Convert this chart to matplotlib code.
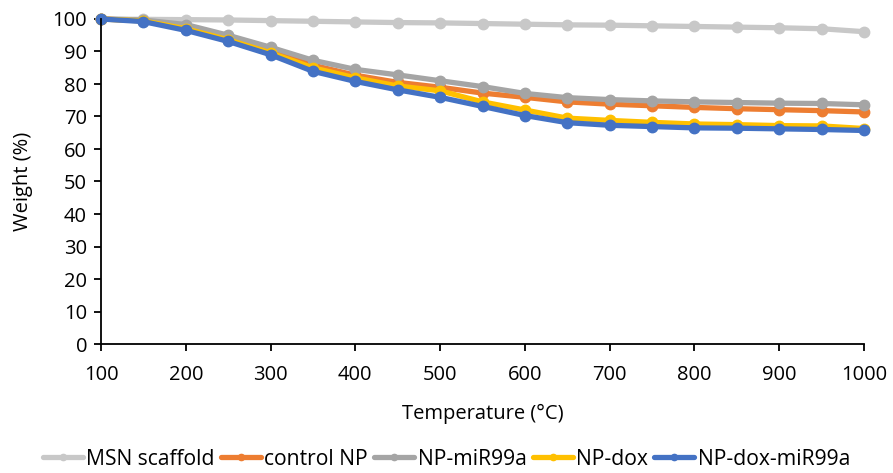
import matplotlib.pyplot as plt
import numpy as np

# Data
temperature = [100, 150, 200, 250, 300, 350, 400, 450, 500, 550, 600, 650, 700, 750, 800, 850, 900, 950, 1000]

msn_scaffold = [100, 99.9, 99.8, 99.7, 99.5, 99.3, 99.1, 98.9, 98.8, 98.6, 98.4, 98.2, 98.1, 97.9, 97.7, 97.5, 97.3, 97.0, 96.1]
control_np = [100, 99.5, 97.6, 94.2, 90.3, 85.8, 82.7, 80.5, 79.0, 77.2, 75.9, 74.5, 73.8, 73.3, 72.8, 72.4, 72.1, 71.8, 71.4]
np_mir99a = [100, 99.7, 98.3, 95.0, 91.3, 87.3, 84.5, 82.8, 81.0, 79.2, 77.1, 75.8, 75.2, 74.8, 74.5, 74.3, 74.1, 74.0, 73.6]
np_dox = [100, 99.4, 97.0, 93.6, 89.6, 85.0, 81.9, 79.4, 77.9, 74.5, 72.0, 69.5, 68.8, 68.2, 67.7, 67.5, 67.2, 67.1, 66.3]
np_dox_mir99a = [100, 99.2, 96.5, 93.1, 89.0, 83.9, 80.8, 78.2, 75.9, 73.1, 70.3, 68.1, 67.3, 66.9, 66.5, 66.4, 66.2, 66.0, 65.7]

series = [
    ('MSN scaffold', msn_scaffold, '#C8C8C8'),
    ('control NP', control_np, '#ED7D31'),
    ('NP-miR99a', np_mir99a, '#A5A5A5'),
    ('NP-dox', np_dox, '#FFC000'),
    ('NP-dox-miR99a', np_dox_mir99a, '#4472C4'),
]

plt.rcParams['font.family'] = ['Open Sans', 'DejaVu Sans']

fig = plt.figure(figsize=(8.93, 4.73), dpi=100)
ax = fig.add_axes([101 / 893, 1 - 344 / 473, 763 / 893, 325 / 473])

for name, vals, color in series:
    ax.plot(temperature, vals, color=color, lw=3.8, marker='o', ms=7.5,
            label=name, clip_on=False, solid_capstyle='round')

ax.set_xlim(100, 1000)
ax.set_ylim(0, 100)
ax.set_xticks(np.arange(100, 1001, 100))
ax.set_yticks(np.arange(0, 101, 10))
ax.tick_params(direction='out', length=5, width=1.3, labelsize=14.5, colors='black', pad=5)
ax.tick_params(axis='x', pad=10)
for side in ['top', 'right']:
    ax.spines[side].set_visible(False)
for side in ['left', 'bottom']:
    ax.spines[side].set_linewidth(1.3)
    ax.spines[side].set_color('black')

ax.set_xlabel('Temperature (°C)', fontsize=14.5, labelpad=14)
ax.set_ylabel('Weight (%)', fontsize=14.5, labelpad=14)

fig.legend(*ax.get_legend_handles_labels(), loc='center', bbox_to_anchor=(0.5, 1 - 459 / 473),
           ncol=5, frameon=False, fontsize=15.2, handlelength=1.9, handletextpad=0.15,
           columnspacing=0.3, markerscale=0.6)

plt.savefig('out.png', dpi=100)
